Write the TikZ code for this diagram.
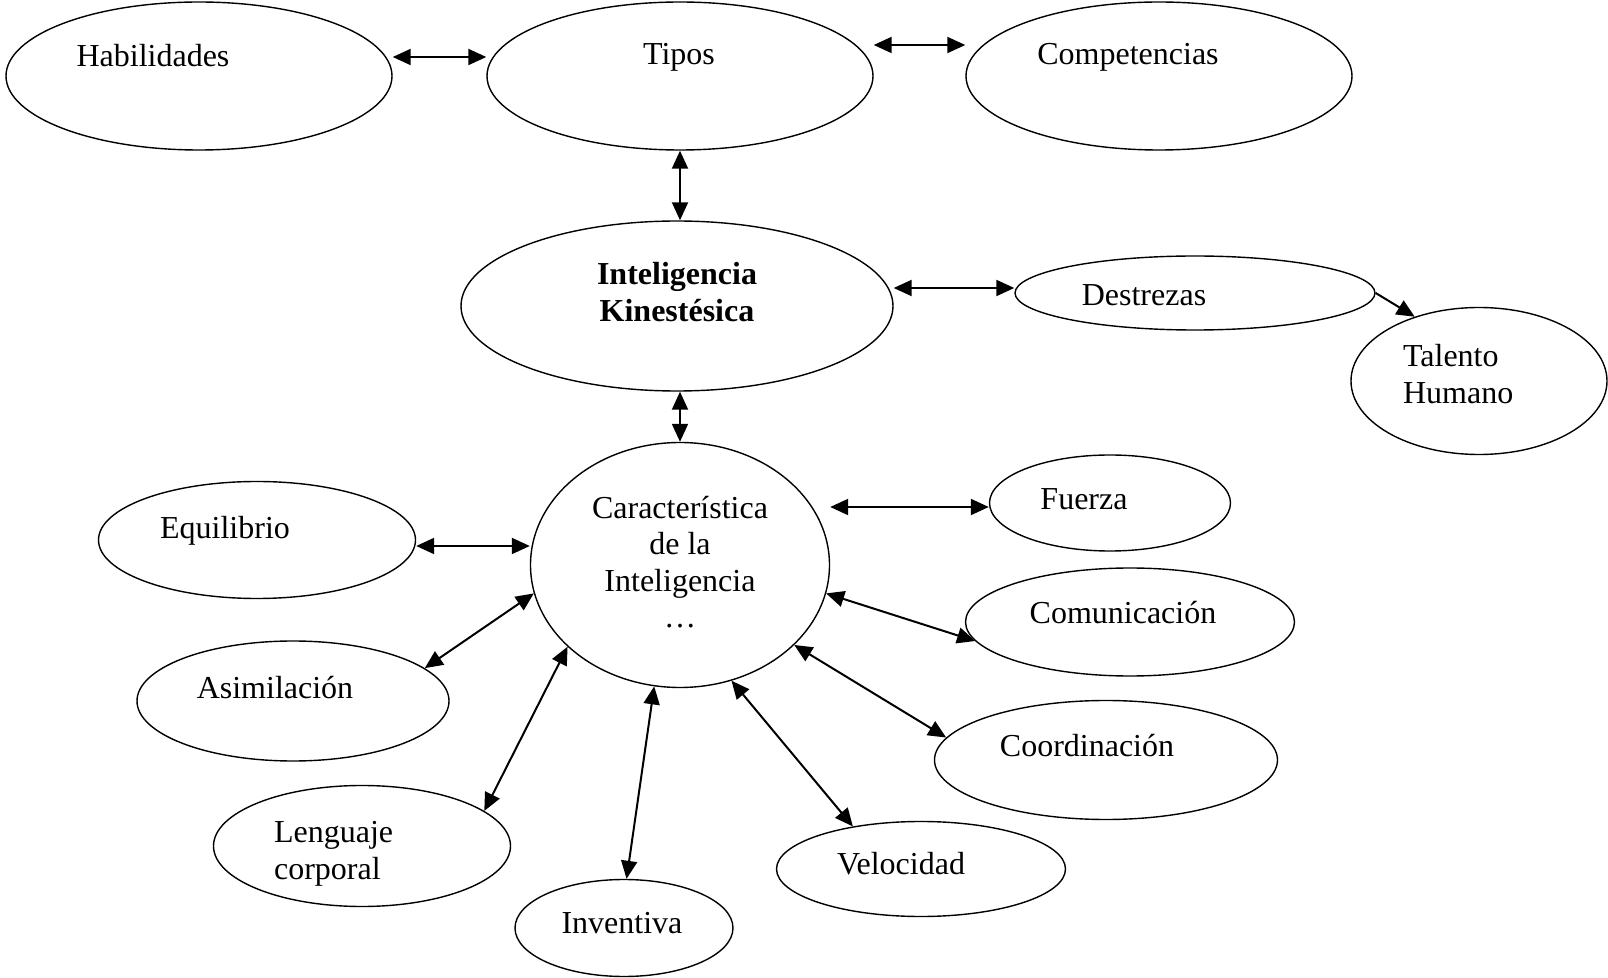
\documentclass[tikz,border=0pt]{standalone}
\usepackage{fontspec}
\setmainfont{Liberation Serif}
\usetikzlibrary{arrows.meta,shapes.geometric}

\begin{document}
\begin{tikzpicture}[x=0.5pt, y=-0.5pt, every node/.style={font=\fontsize{16}{18.25}\selectfont}, >={Triangle[length=9pt,width=8pt]},
	elli/.style={ellipse, draw, line width=0.7pt, inner sep=0pt},
	link/.style={<->, line width=1pt}]
	\useasboundingbox (0,0) rectangle (1608,978);
	\node[elli, minimum width=193pt, minimum height=74pt] (hab) at (199,76) {};
	\node[elli, minimum width=193pt, minimum height=74pt] (tip) at (680,76) {};
	\node[elli, minimum width=193pt, minimum height=74pt] (com) at (1159,76) {};
	\node[elli, minimum width=216pt, minimum height=85pt] (ik) at (677,306) {};
	\node[elli, minimum width=180pt, minimum height=37pt] (des) at (1195,293) {};
	\node[elli, minimum width=128pt, minimum height=73.5pt] (tal) at (1479,381) {};
	\node[elli, minimum width=149.5pt, minimum height=122.5pt] (car) at (680,565) {};
	\node[elli, minimum width=158.5pt, minimum height=58.5pt] (equ) at (257,540) {};
	\node[elli, minimum width=156pt, minimum height=60pt] (asi) at (293,701) {};
	\node[elli, minimum width=148.5pt, minimum height=60.5pt] (len) at (362,846) {};
	\node[elli, minimum width=109pt, minimum height=48.5pt] (inv) at (624,928) {};
	\node[elli, minimum width=144.5pt, minimum height=47.5pt] (vel) at (921,869) {};
	\node[elli, minimum width=171.5pt, minimum height=59.5pt] (coo) at (1106,760) {};
	\node[elli, minimum width=164.5pt, minimum height=54pt] (cmn) at (1130,622) {};
	\node[elli, minimum width=120.5pt, minimum height=48pt] (fza) at (1110,503) {};

	\node (habT) at (153,56) {Habilidades};
	\node (tipT) at (679,57) {Tipos};
	\node (comT) at (1128,57) {Competencias};
	\node[align=center, font=\fontsize{16}{18.25}\selectfont\bfseries] (ikT) at (677,292) {Inteligencia\\Kinestésica};
	\node (desT) at (1144,295) {Destrezas};
	\node[align=left, anchor=west] (talT) at (1396,374) {Talento\\Humano};
	\node[align=center] (carT) at (680,562) {Característica\\de la\\Inteligencia\\…};
	\node (equT) at (225,531) {Equilibrio};
	\node (asiT) at (275,688) {Asimilación};
	\node[align=left, anchor=west] (lenT) at (267,854) {Lenguaje\\corporal};
	\node (invT) at (622,923) {Inventiva};
	\node (velT) at (901,864) {Velocidad};
	\node (cooT) at (1087,746) {Coordinación};
	\node (cmnT) at (1123,613) {Comunicación};
	\node (fzaT) at (1084,499) {Fuerza};

	\draw[link] ([yshift=9.5pt]hab.east) -- ([yshift=9.5pt]hab.east -| tip.west);
	\draw[link] ([yshift=15.5pt]tip.east) -- ([yshift=15.5pt]tip.east -| com.west);
	\draw[link] (tip.south) -- (tip.south |- ik.north);
	\draw[link] ([yshift=9pt]ik.east) -- ([yshift=9pt]ik.east -| des.west);
	\draw[->, line width=1pt] (des.east) -- (tal.135);
	\draw[link] (car.north |- ik.south) -- (car.north);
	\draw[link] ([yshift=-3pt]equ.east) -- ([yshift=-3pt]equ.east -| car.west);
	\draw[link] (asi.14) -- (car.191);
	\draw[link] (len.16) -- (car.216);
	\draw[link] (inv.87) -- (car.258);
	\draw[link] (vel.148) -- (car.294);
	\draw[link] (coo.172) -- (car.325);
	\draw[link] (cmn.187) -- (car.349);
	\draw[link] ([yshift=-2pt]fza.west) -- ([yshift=-2pt]fza.west -| car.east);
\end{tikzpicture}
\end{document}
